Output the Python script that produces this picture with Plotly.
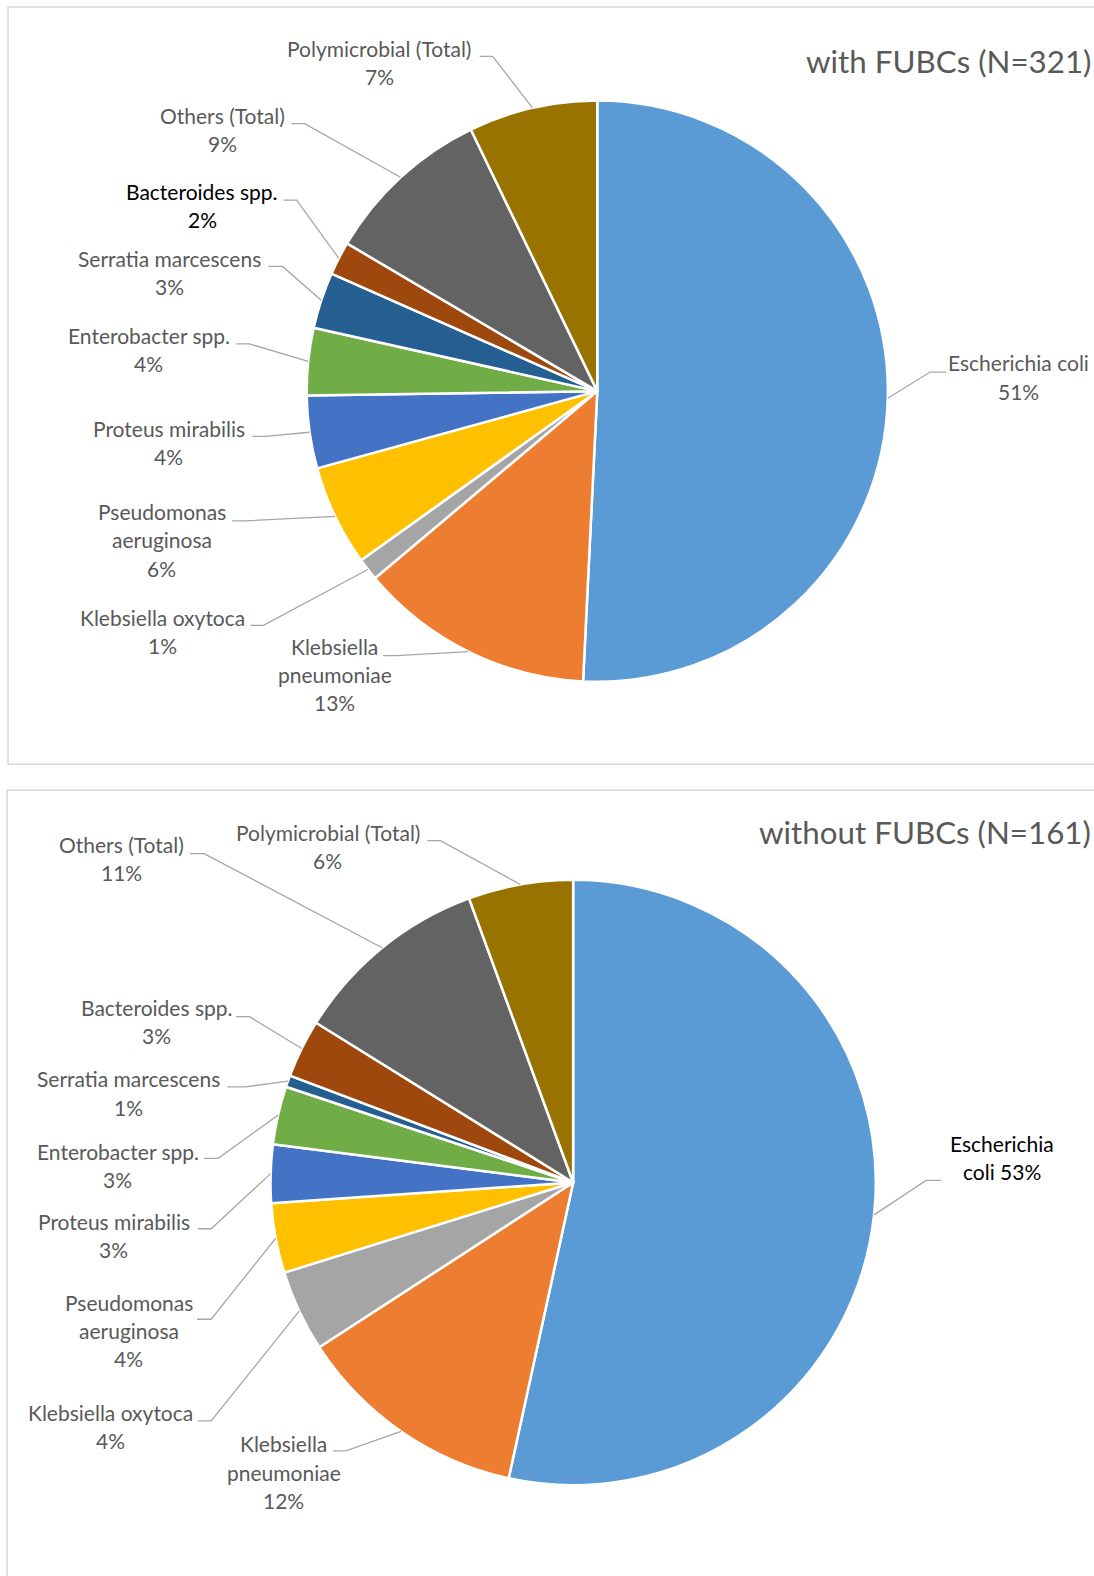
import math
import plotly.graph_objects as go

# ---------------- data ----------------
categories = [
    "Escherichia coli", "Klebsiella pneumoniae", "Klebsiella oxytoca",
    "Pseudomonas aeruginosa", "Proteus mirabilis", "Enterobacter spp.",
    "Serratia marcescens", "Bacteroides spp.", "Others (Total)",
    "Polymicrobial (Total)",
]
with_fubcs_counts = [163, 42, 4, 18, 13, 12, 10, 6, 30, 23]
without_fubcs_counts = [86, 20, 7, 6, 5, 5, 1, 5, 17, 9]
chart_titles = ["with FUBCs (N=321)", "without FUBCs (N=161)"]

# label text split into lines ("{p}" = percentage)
label_text_with = [
    ["Escherichia coli", "{p}"], ["Klebsiella", "pneumoniae", "{p}"],
    ["Klebsiella oxytoca", "{p}"], ["Pseudomonas", "aeruginosa", "{p}"],
    ["Proteus mirabilis", "{p}"], ["Enterobacter spp.", "{p}"],
    ["Serratia marcescens", "{p}"], ["Bacteroides spp.", "{p}"],
    ["Others (Total)", "{p}"], ["Polymicrobial (Total)", "{p}"],
]
label_text_without = [
    ["Escherichia", "coli {p}"], ["Klebsiella", "pneumoniae", "{p}"],
    ["Klebsiella oxytoca", "{p}"], ["Pseudomonas", "aeruginosa", "{p}"],
    ["Proteus mirabilis", "{p}"], ["Enterobacter spp.", "{p}"],
    ["Serratia marcescens", "{p}"], ["Bacteroides spp.", "{p}"],
    ["Others (Total)", "{p}"], ["Polymicrobial (Total)", "{p}"],
]

# ---------------- styles / layout ----------------
slice_colors = ["#5B9BD5", "#ED7D31", "#A5A5A5", "#FFC000", "#4472C4",
                "#70AD47", "#255E91", "#9E480E", "#636363", "#997300"]
W, H = 1094, 1576
S = 1094 / 1088  # layout positions below measured on a 1088-wide view
FONT = "Lato"
GRAY = "#595959"
LINE_GAP = 28
LABEL_SIZE = 21
TITLE_SIZE = 31.3
TEXT_DY = -1

layouts = [
    dict(  # top chart
        cx=594, cy=389, r=289, title_y=61, box=(8, 7, 1100, 760),
        text_colors=[GRAY] * 7 + ["#000000"] + [GRAY] * 2,
        labels=[  # (text center x, first line y, tick x text side, tick x pie side, tick y)
            (1013, 362, 941, 925, 370),
            (333, 644, 381, 394, 652),
            (162, 615, 249, 262, 622),
            (161, 510, 231, 244, 518),
            (168, 427, 251, 264, 434),
            (148, 335, 235, 248, 342),
            (169, 258, 267, 281, 265),
            (201, 191, 282, 295, 199),
            (221, 116, 290, 303, 123),
            (377, 49, 477, 490, 56),
        ],
    ),
    dict(  # bottom chart
        cx=570, cy=1176, r=301, title_y=827, box=(7, 786, 1100, 1600),
        text_colors=["#000000"] + [GRAY] * 9,
        labels=[
            (997, 1138, 936, 921, 1174),
            (282, 1437, 331, 344, 1443),
            (110, 1406, 197, 210, 1413),
            (128, 1296, 196, 210, 1312),
            (113, 1216, 197, 210, 1222),
            (117, 1146, 203, 217, 1152),
            (128, 1074, 226, 244, 1081),
            (156, 1003, 235, 248, 1011),
            (121, 841, 189, 203, 849),
            (326, 829, 425, 438, 836),
        ],
    ),
]


def px(x):
    return x * S / W


def py(y):
    return 1 - y * S / H


fig = go.Figure()
shapes = []
annotations = []

for counts, title, label_text, lay in zip(
        [with_fubcs_counts, without_fubcs_counts], chart_titles,
        [label_text_with, label_text_without], layouts):
    cx, cy, r = lay["cx"] * S, lay["cy"] * S, lay["r"] * S
    fig.add_trace(go.Pie(
        labels=categories, values=counts, sort=False, direction="clockwise",
        rotation=0, textinfo="none", hoverinfo="label+percent",
        marker=dict(colors=slice_colors, line=dict(color="white", width=2.5)),
        domain=dict(x=[(cx - r) / W, (cx + r) / W],
                    y=[1 - (cy + r) / H, 1 - (cy - r) / H]),
        showlegend=False,
    ))
    # box
    bx0, by0, bx1, by1 = lay["box"]
    shapes.append(dict(type="rect", xref="paper", yref="paper",
                       x0=px(bx0), x1=px(bx1), y0=py(by1), y1=py(by0),
                       line=dict(color="#D9D9D9", width=1.5), fillcolor="rgba(0,0,0,0)",
                       layer="below"))
    # title
    annotations.append(dict(text=title, xref="paper", yref="paper",
                            x=px(1087), y=py(lay["title_y"]), xanchor="right", yanchor="middle",
                            showarrow=False, font=dict(family=FONT, size=TITLE_SIZE, color=GRAY)))
    total = sum(counts)
    cum = 0
    for i, v in enumerate(counts):
        mid = (cum + v / 2) / total * 2 * math.pi
        cum += v
        pct = f"{round(100 * v / total)}%"
        ex = lay["cx"] + lay["r"] * math.sin(mid)
        ey = lay["cy"] - lay["r"] * math.cos(mid)
        tx, ty, kx0, kx1, ky = lay["labels"][i]
        col = lay["text_colors"][i]
        for j, line in enumerate(label_text[i]):
            annotations.append(dict(
                text=line.replace("{p}", pct), xref="paper", yref="paper",
                x=px(tx), y=py(ty + TEXT_DY + j * LINE_GAP), xanchor="center", yanchor="middle",
                showarrow=False, font=dict(family=FONT, size=LABEL_SIZE, color=col)))
        # leader line: short tick + diagonal to slice edge
        path = (f"M {px(kx0)} {py(ky)} L {px(kx1)} {py(ky)} "
                f"L {px(ex)} {py(ey)}")
        shapes.append(dict(type="path", xref="paper", yref="paper", path=path,
                           line=dict(color="#A6A6A6", width=1.3)))

fig.update_layout(
    width=W, height=H, margin=dict(l=0, r=0, t=0, b=0),
    paper_bgcolor="white", plot_bgcolor="white",
    shapes=shapes, annotations=annotations,
    font=dict(family=FONT),
)
fig.write_html("out.html")
